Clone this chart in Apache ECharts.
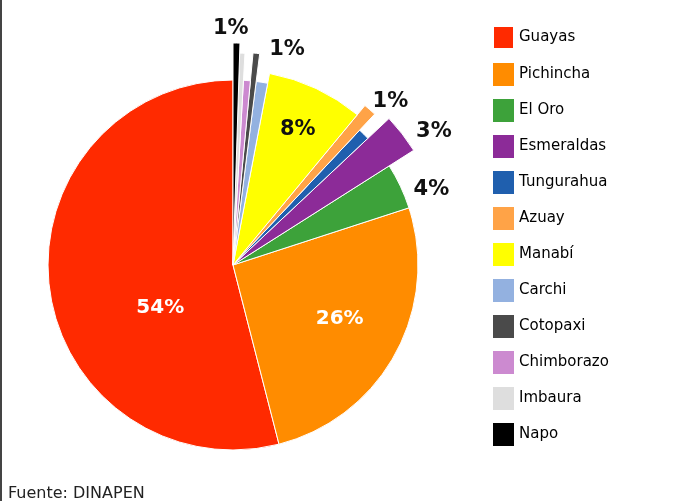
<!DOCTYPE html>
<html>
<head>
<meta charset="utf-8">
<script src="https://cdn.jsdelivr.net/npm/echarts@6/dist/echarts.min.js"></script>
<style>
  html, body { margin: 0; padding: 0; background: #fff; }
  #grafico { width: 689px; height: 501px; }
</style>
</head>
<body>
<div id="grafico"></div>
<script>
// datos (porcentaje por provincia)
var provincias = ['Guayas', 'Pichincha', 'El Oro', 'Esmeraldas', 'Tungurahua', 'Azuay',
    'Manabí', 'Carchi', 'Cotopaxi', 'Chimborazo', 'Imbaura', 'Napo'];
var porcentajes = [54, 26, 4, 3, 1, 1, 8, 1, 0.5, 0.6, 0.4, 0.5];
var etiquetas = ['54%', '26%', '4%', '3%', '', '1%', '8%', '', '1%', '', '', '1%'];

// estilos
var colores = ['#ff2a00', '#ff8c00', '#3da23a', '#8c2b98', '#1f5fae', '#ffa347',
    '#ffff00', '#93b1e0', '#4a4a4a', '#cc8ad0', '#dedede', '#000000'];
var radios = [185, 185, 185, 214, 185, 207, 195, 185, 213, 185, 212, 222];
var colorEtiqueta = ['#fff', '#fff', '#111', '#111', '#111', '#111', '#111', '#111', '#111', '#111', '#111', '#111'];
var mover = [[22, 31], [23, 8], [112, -35], [114, -66], [0, 0], [87, -84],
    [22, -45], [0, 0], [42, -107], [0, 0], [0, 0], [-4, -122]];

var myChart = echarts.init(document.getElementById('grafico'));

// una serie por provincia para poder dar a cada sector su propio radio
var series = provincias.map(function (nombre, i) {
    return {
        type: 'pie',
        center: [233, 265],
        radius: [0, radios[i]],
        startAngle: 90,
        clockwise: false,
        silent: true,
        animation: false,
        avoidLabelOverlap: false,
        z: 2 + i,
        label: {
            position: 'inside',
            formatter: function () { return etiquetas[i]; },
            color: colorEtiqueta[i],
            fontFamily: 'DejaVu Sans',
            fontWeight: 'bold',
            fontSize: i < 2 ? 20 : 21
        },
        labelLine: { show: false },
        labelLayout: { dx: mover[i][0], dy: mover[i][1] },
        data: provincias.map(function (n, j) {
            return {
                name: n,
                value: porcentajes[j],
                itemStyle: j === i
                    ? { color: colores[j], borderColor: '#fff', borderWidth: 1 }
                    : { color: 'transparent', borderWidth: 0 },
                label: { show: j === i && etiquetas[i] !== '' }
            };
        })
    };
});

myChart.setOption({
    backgroundColor: '#fff',
    legend: {
        orient: 'vertical',
        left: 492,
        top: 25,
        padding: 0,
        itemWidth: 21,
        itemHeight: 23,
        itemGap: 13,
        icon: 'rect',
        selectedMode: false,
        textStyle: { fontFamily: 'DejaVu Sans', fontSize: 15, color: '#000' },
        data: provincias.map(function (n, j) {
            return { name: n, itemStyle: { color: colores[j] } };
        })
    },
    graphic: [
        {
            type: 'line',
            shape: { x1: 1, y1: 0, x2: 1, y2: 501 },
            style: { stroke: '#444', lineWidth: 2 }
        },
        {
            type: 'text',
            left: 8,
            top: 486,
            style: {
                text: 'Fuente: DINAPEN',
                font: '16px "DejaVu Sans"',
                fill: '#222'
            }
        }
    ],
    series: series
});
</script>
</body>
</html>
